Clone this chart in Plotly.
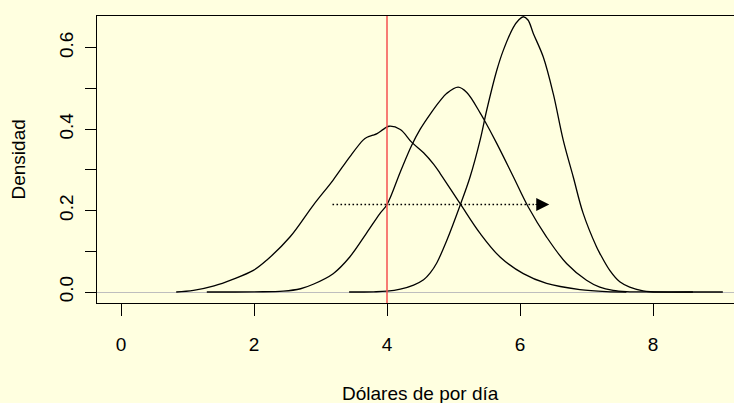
import plotly.graph_objects as go

# density curves
x1 = [0.83, 1.09, 1.4, 1.68, 1.99, 2.19, 2.54, 2.89, 3.19, 3.44, 3.64, 3.7, 3.79, 3.85, 3.95, 4.03,
      4.2, 4.37, 4.55, 4.7, 4.8, 5.1, 5.4, 5.7, 6.05, 6.4, 6.9, 7.3, 7.6]
y1 = [0.0, 0.004, 0.015, 0.031, 0.053, 0.078, 0.135, 0.213, 0.275, 0.332, 0.373, 0.38, 0.385, 0.389, 0.4, 0.407,
      0.399, 0.368, 0.342, 0.314, 0.291, 0.217, 0.144, 0.086, 0.045, 0.021, 0.006, 0.001, 0.0]

x2 = [1.29, 2.0, 2.44, 2.7, 2.89, 3.19, 3.44, 3.69, 3.89, 4.0, 4.2, 4.37, 4.5, 4.65, 4.8, 4.9, 5.07, 5.2, 5.4, 5.45,
      5.65, 5.9, 6.12, 6.4, 6.7, 7.0, 7.2, 7.4, 7.6, 8.0, 8.6]
y2 = [0.0, 0.0005, 0.002, 0.008, 0.019, 0.045, 0.086, 0.144, 0.192, 0.215, 0.295, 0.36, 0.4, 0.437, 0.47, 0.488, 0.503, 0.49, 0.44, 0.426,
      0.365, 0.283, 0.21, 0.135, 0.07, 0.029, 0.012, 0.004, 0.001, 0.0, 0.0]

x3 = [3.43, 3.8, 4.0, 4.2, 4.4, 4.55, 4.65, 4.75, 4.9, 5.1, 5.25, 5.4, 5.5, 5.65, 5.75, 5.9, 5.98, 6.05, 6.12, 6.2,
      6.35, 6.5, 6.65, 6.8, 6.95, 7.15, 7.2, 7.35, 7.5, 7.65, 7.85, 7.96, 8.5, 9.05]
y3 = [0.0, 0.0005, 0.002, 0.007, 0.017, 0.03, 0.047, 0.072, 0.127, 0.213, 0.283, 0.373, 0.447, 0.544, 0.594, 0.65, 0.668, 0.676, 0.668, 0.635,
      0.577, 0.487, 0.373, 0.283, 0.193, 0.111, 0.095, 0.053, 0.025, 0.012, 0.003, 0.001, 0.0, 0.0]

arrow_x = [3.18, 6.21]
arrow_y = [0.215, 0.215]
arrow_tip = 6.44
vline_x = 4

x_ticks = [0, 2, 4, 6, 8]
y_ticks = [0.0, 0.1, 0.2, 0.3, 0.4, 0.5, 0.6]
y_labels = ["0.0", "", "0.2", "", "0.4", "", "0.6"]

font = "Liberation Sans, Arial, sans-serif"
bg = "#ffffe0"

fig = go.Figure()
for xs, ys in [(x1, y1), (x2, y2), (x3, y3)]:
    fig.add_trace(go.Scatter(x=xs, y=ys, mode="lines", line=dict(color="black", width=1.3),
                             line_shape="spline", showlegend=False, hoverinfo="skip"))

# dotted arrow
fig.add_trace(go.Scatter(x=arrow_x, y=arrow_y, mode="lines",
                         line=dict(color="black", width=1.6, dash="1.6px,2.4px"),
                         showlegend=False, hoverinfo="skip"))
fig.add_annotation(x=arrow_tip, y=arrow_y[1], ax=arrow_x[1], ay=arrow_y[1], xref="x", yref="y",
                   axref="x", ayref="y", text="", showarrow=True, arrowhead=2,
                   arrowsize=2.6, arrowwidth=1, arrowcolor="black")

fig.add_shape(type="line", x0=vline_x, x1=vline_x, y0=0, y1=1, xref="x", yref="paper",
              line=dict(color="#f55050", width=1.5))

fig.add_annotation(text="Dólares de por día", xref="x", yref="paper", x=4.51, y=0,
                   yanchor="middle", yshift=-90, showarrow=False,
                   font=dict(family=font, size=19, color="black"))
fig.add_annotation(text="Densidad", xref="paper", yref="paper", x=0, y=0.5, xanchor="center",
                   xshift=-79, textangle=-90, showarrow=False,
                   font=dict(family=font, size=19, color="black"))

fig.update_layout(
    width=734, height=403,
    margin=dict(l=97, r=0, t=16, b=100),
    paper_bgcolor=bg, plot_bgcolor=bg,
    font=dict(family=font, size=19, color="black"),
    xaxis=dict(range=[-0.361, 9.218], tickvals=x_ticks, ticks="outside", ticklen=12,
               tickcolor="black", showline=True, mirror=True, linecolor="black", linewidth=1,
               showgrid=False, zeroline=False, ticklabelstandoff=12),
    yaxis=dict(range=[-0.027, 0.6778], tickvals=y_ticks, ticktext=y_labels, tickangle=-90,
               ticks="outside", ticklen=11, tickcolor="black", showline=True, linecolor="black",
               linewidth=1, showgrid=False, zeroline=True, zerolinecolor="#bebebe",
               zerolinewidth=1.2, ticklabelstandoff=4),
)

fig.write_html("out.html", config={"displayModeBar": False},
               post_script="document.body.style.margin='0';")
